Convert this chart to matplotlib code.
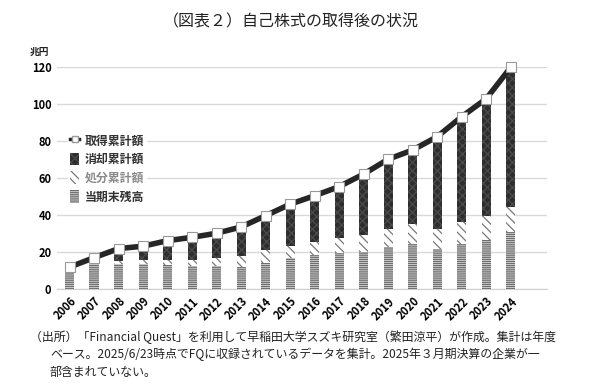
import matplotlib

matplotlib.use("Agg")
import matplotlib.pyplot as plt
from matplotlib.lines import Line2D
from matplotlib.patches import Patch

plt.rcParams["font.family"] = ["Noto Sans CJK JP", "DejaVu Sans"]
plt.rcParams["hatch.linewidth"] = 0.9

years = [str(y) for y in range(2006, 2025)]
# 兆円
balance = [9.0, 13.5, 13.6, 13.5, 13.0, 12.6, 12.6, 11.9, 14.3, 16.7,
           18.3, 19.8, 20.0, 22.7, 24.5, 21.8, 24.3, 26.7, 31.2]
disposed = [0.5, 0.5, 1.9, 2.1, 2.8, 3.4, 4.5, 5.9, 6.7, 6.9,
            7.0, 7.9, 9.4, 9.9, 10.8, 11.0, 11.9, 13.1, 13.5]
cancelled = [2.5, 3.1, 6.5, 7.7, 10.5, 12.1, 13.2, 15.9, 18.8, 22.4,
             25.3, 27.8, 32.9, 37.7, 40.0, 49.7, 57.1, 63.2, 75.3]
acquired = [12.0, 17.1, 22.0, 23.3, 26.3, 28.1, 30.3, 33.7, 39.8, 46.0,
            50.6, 55.5, 62.3, 70.3, 75.3, 82.5, 93.3, 103.0, 120.0]

x = list(range(len(years)))
bottom2 = [b for b in balance]
bottom3 = [b + d for b, d in zip(balance, disposed)]

fig = plt.figure(figsize=(6.02, 3.89), dpi=100)
ax = fig.add_axes([0.0947, 0.2563, 0.8140, 0.5707])

STRIPE = dict(color="#d8d8d8", edgecolor="#6e6e6e", hatch="--------")
DIAG = dict(color="white", edgecolor="#7a7a7a", hatch="\\\\\\\\")
DARK = dict(color="#2e2e2e", edgecolor="#4c4c4c", hatch="xxxx")

width = 0.37
ax.bar(x, balance, width, linewidth=0, zorder=2, **STRIPE)
ax.bar(x, disposed, width, bottom=bottom2, linewidth=0, zorder=2, **DIAG)
ax.bar(x, cancelled, width, bottom=bottom3, linewidth=0, zorder=2, **DARK)
ax.plot(x, acquired, color="#262626", linewidth=4.0, marker="s", markersize=7,
        markerfacecolor="white", markeredgecolor="#999999", markeredgewidth=0.8,
        zorder=4, clip_on=False)

ax.set_xlim(-0.51, 19.48)
ax.set_ylim(0, 120)
ax.set_yticks(range(0, 121, 20))
ax.grid(axis="y", color="#d9d9d9", linewidth=1.0, zorder=0)
ax.set_axisbelow(True)
for side in ["top", "right", "left"]:
    ax.spines[side].set_visible(False)
ax.spines["bottom"].set_color("#d0d0d0")
ax.tick_params(axis="both", length=0, labelsize=8, pad=4)
ax.set_xticks(x)
ax.set_xticklabels(years, rotation=45, ha="right", rotation_mode="anchor",
                   fontweight="bold")
for lab in ax.get_yticklabels():
    lab.set_fontweight("bold")


def legend_patch(style):
    return Patch(facecolor=style["color"], edgecolor=style["edgecolor"],
                 hatch=style["hatch"], linewidth=0)


handles = [
    Line2D([], [], color="#262626", linewidth=2.5, marker="s", markersize=5,
           markerfacecolor="white", markeredgecolor="#999999"),
    legend_patch(DARK),
    legend_patch(DIAG),
    legend_patch(STRIPE),
]
labels = ["取得累計額", "消却累計額", "処分累計額", "当期末残高"]
leg = ax.legend(handles, labels, loc="upper left", bbox_to_anchor=(0.022, 0.71),
                frameon=True, fontsize=8.6, handlelength=0.75, handleheight=1.25,
                handletextpad=0.45, labelspacing=0.45, borderpad=0.2,
                borderaxespad=0)
leg.get_frame().set_edgecolor("white")
leg.get_frame().set_facecolor("white")
leg.get_frame().set_alpha(1.0)
for t in leg.get_texts():
    t.set_fontweight("bold")
    t.set_color("#333333")
leg.get_texts()[2].set_color("#8a8a8a")

fig.text(0.484, 0.943, "（図表２）自己株式の取得後の状況", ha="center", va="center",
         fontsize=11.5, color="#222222")
fig.text(0.050, 0.866, "兆円", ha="left", va="center", fontsize=7,
         fontweight="bold", color="#222222")

foot = [
    (0.050, 0.134, "（出所）「Financial Quest」を利用して早稲田大学スズキ研究室（繁田涼平）が作成。集計は年度"),
    (0.083, 0.088, "ベース。2025/6/23時点でFQに収録されているデータを集計。2025年３月期決算の企業が一"),
    (0.083, 0.042, "部含まれていない。"),
]
for fx, fy, txt in foot:
    fig.text(fx, fy, txt, ha="left", va="center", fontsize=8.6, color="#222222")

fig.savefig("out.png", dpi=100)
